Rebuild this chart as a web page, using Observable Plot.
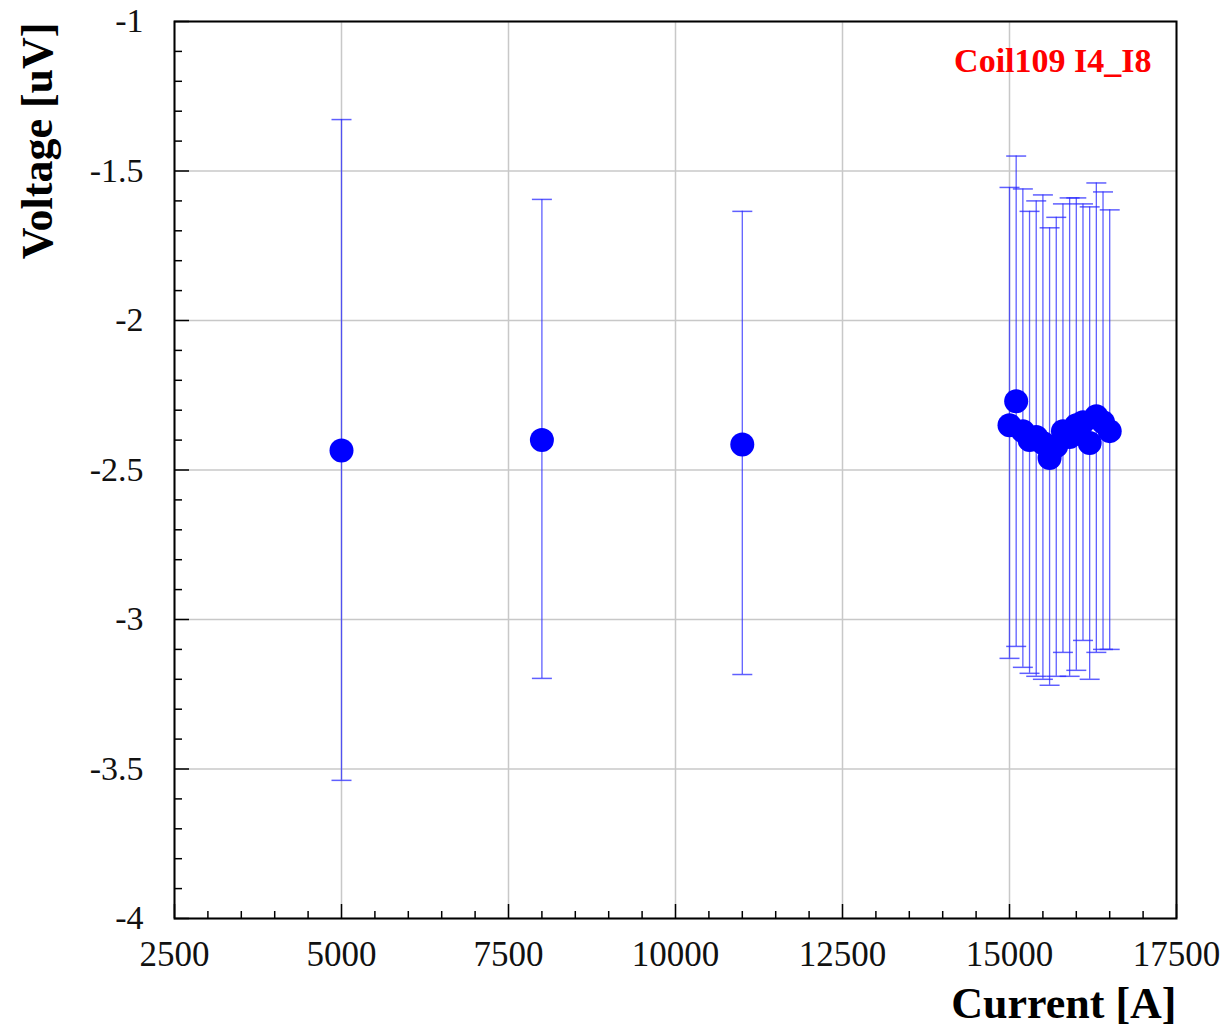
<!DOCTYPE html>
<html>
<head>
<meta charset="utf-8">
<script src="https://cdn.jsdelivr.net/npm/d3@7"></script>
<script src="https://cdn.jsdelivr.net/npm/@observablehq/plot@0.6"></script>
<style>
  html, body { margin: 0; padding: 0; background: #fff; }
</style>
</head>
<body>
<div id="chart"></div>
<script>
// ---- Data ----
const current = [5000, 8000, 11000,
  15000, 15100, 15200, 15300, 15400, 15500, 15600, 15700,
  15800, 15900, 16000, 16100, 16200, 16300, 16400, 16500];
const voltage = [-2.435, -2.40, -2.415,
  -2.35, -2.27, -2.37, -2.40, -2.39, -2.41, -2.46, -2.42,
  -2.37, -2.39, -2.35, -2.34, -2.41, -2.32, -2.34, -2.37];
const errLow = [-3.538, -3.197, -3.184,
  -3.13, -3.09, -3.16, -3.18, -3.19, -3.20, -3.22, -3.19,
  -3.11, -3.19, -3.17, -3.07, -3.20, -3.11, -3.10, -3.10];
const errHigh = [-1.328, -1.595, -1.635,
  -1.555, -1.45, -1.56, -1.635, -1.60, -1.58, -1.69, -1.655,
  -1.61, -1.59, -1.59, -1.61, -1.62, -1.54, -1.57, -1.63];

const xTicks = [2500, 5000, 7500, 10000, 12500, 15000, 17500];
const yTicks = [-1, -1.5, -2, -2.5, -3, -3.5, -4];
const xTickLabels = ["2500", "5000", "7500", "10000", "12500", "15000", "17500"];
const yTickLabels = ["-1", "-1.5", "-2", "-2.5", "-3", "-3.5", "-4"];
const xMinor = d3.range(3000, 17500, 500).filter(v => v % 2500 !== 0);
const yMinor = d3.range(-39, -10, 1).map(v => v / 10).filter(v => Math.round(v * 10) % 5 !== 0);

const xTitle = "Current [A]";
const yTitle = "Voltage [uV]";
const tag = "Coil109 I4_I8";

const data = current.map((x, i) => ({x, y: voltage[i], lo: errLow[i], hi: errHigh[i]}));

// horizontal cap symbol for error bars
const capSymbol = {
  draw(context, size) {
    const w = Math.sqrt(size / Math.PI);
    context.moveTo(-w, 0);
    context.lineTo(w, 0);
  }
};

const W = 1227, H = 1027;
const mL = 174, mR = 51, mT = 21, mB = 109;
const innerW = W - mL - mR, innerH = H - mT - mB;
const serif = "'Liberation Serif', 'DejaVu Serif', serif";
const barColor = "#2a2aff";

const chart = Plot.plot({
  width: W,
  height: H,
  marginLeft: mL,
  marginRight: mR,
  marginTop: mT,
  marginBottom: mB,
  style: {fontFamily: serif, background: "#fff", color: "#111", overflow: "visible"},
  x: {domain: [2500, 17500], axis: null},
  y: {domain: [-4, -1], axis: null},
  marks: [
    // grid
    Plot.ruleX(xTicks, {x: d => d, stroke: "#c8c8c8", strokeWidth: 1.5}),
    Plot.ruleY(yTicks, {y: d => d, stroke: "#c8c8c8", strokeWidth: 1.5}),
    // error bars
    Plot.ruleX(data, {x: "x", y1: "lo", y2: "hi", stroke: barColor, strokeOpacity: 0.75, strokeWidth: 1.3}),
    Plot.dot(data, {x: "x", y: "hi", symbol: capSymbol, r: 10, stroke: barColor, strokeOpacity: 0.75, strokeWidth: 1.5, fill: "none"}),
    Plot.dot(data, {x: "x", y: "lo", symbol: capSymbol, r: 10, stroke: barColor, strokeOpacity: 0.75, strokeWidth: 1.5, fill: "none"}),
    // points
    Plot.dot(data, {x: "x", y: "y", r: 12, fill: "#0000ff", stroke: "none"}),
    // frame
    Plot.frame({stroke: "#000", strokeWidth: 2}),
    // inner ticks: x axis
    Plot.tickX(xMinor, {x: d => d, insetTop: innerH - 7, stroke: "#000", strokeWidth: 1.5}),
    Plot.tickX(xTicks, {x: d => d, insetTop: innerH - 14, stroke: "#000", strokeWidth: 1.5}),
    // inner ticks: y axis
    Plot.tickY(yMinor, {y: d => d, insetRight: innerW - 8, stroke: "#000", strokeWidth: 1.5}),
    Plot.tickY(yTicks, {y: d => d, insetRight: innerW - 15, stroke: "#000", strokeWidth: 1.5}),
    // tick labels
    Plot.text(xTicks, {x: d => d, text: (d, i) => xTickLabels[i], frameAnchor: "bottom", dy: 47, fontSize: 35, fill: "#111"}),
    Plot.text(yTicks, {y: d => d, text: (d, i) => yTickLabels[i], frameAnchor: "left", textAnchor: "end", dx: -31, fontSize: 34, fill: "#111"}),
    // axis titles
    Plot.text([xTitle], {frameAnchor: "bottom-right", textAnchor: "end", dy: 99, fontSize: 44, fontWeight: "bold", fill: "#000"}),
    Plot.text([yTitle], {frameAnchor: "top-left", textAnchor: "end", rotate: -90, dx: -154, dy: 1, fontSize: 44, fontWeight: "bold", fill: "#000"}),
    // tag
    Plot.text([tag], {frameAnchor: "top-right", textAnchor: "end", dx: -25, dy: 26, fontSize: 34, fontWeight: "bold", fill: "#ff0000"})
  ]
});

document.getElementById("chart").appendChild(chart);
</script>
</body>
</html>
